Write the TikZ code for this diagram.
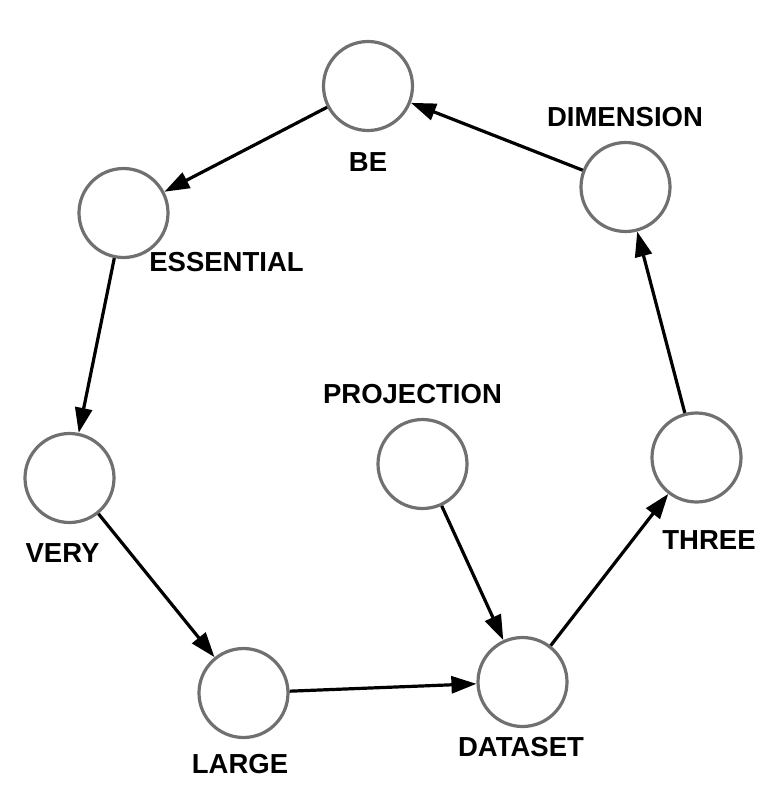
\documentclass[tikz,border=0pt]{standalone}
\usepackage{fontspec}
\setmainfont{Liberation Sans}
\usetikzlibrary{arrows.meta}
\definecolor{ringgray}{HTML}{707070}
\begin{document}
\begin{tikzpicture}[x=1pt,y=-1pt,
  vert/.style={circle,draw=ringgray,line width=3.2pt,fill=white,minimum size=89pt,inner sep=0pt},
  lbl/.style={font=\fontsize{27.5}{30}\selectfont\bfseries,inner sep=0pt,text=black},
  edge/.style={line width=3.2pt,draw=black,-{Triangle[length=25pt,width=17pt]},shorten >=0pt}]
\useasboundingbox (0,0) rectangle (774,804);
\node[vert] (be) at (368,86) {};
\node[vert] (ess) at (123.5,213) {};
\node[vert] (very) at (69.5,478) {};
\node[vert] (large) at (243.5,693) {};
\node[vert] (data) at (522.5,682) {};
\node[vert] (three) at (696.5,457.5) {};
\node[vert] (dim) at (625.5,187) {};
\node[vert] (proj) at (422.5,464) {};
\node[lbl] (lbe) at (368,162) {BE};
\node[lbl] (less) at (226.5,262) {ESSENTIAL};
\node[lbl] (lvery) at (62.5,553) {VERY};
\node[lbl] (llarge) at (240,764) {LARGE};
\node[lbl] (ldata) at (521,747) {DATASET};
\node[lbl] (lthree) at (709,540) {THREE};
\node[lbl] (ldim) at (625,117.5) {DIMENSION};
\node[lbl] (lproj) at (412.5,394) {PROJECTION};
\draw[edge] (be) -- (ess);
\draw[edge] (ess) -- (very);
\draw[edge] (very) -- (large);
\draw[edge] (large) -- (data);
\draw[edge] (proj) -- (data);
\draw[edge] (data) -- (three);
\draw[edge] (three) -- (dim);
\draw[edge] (dim) -- (be);
\end{tikzpicture}
\end{document}
